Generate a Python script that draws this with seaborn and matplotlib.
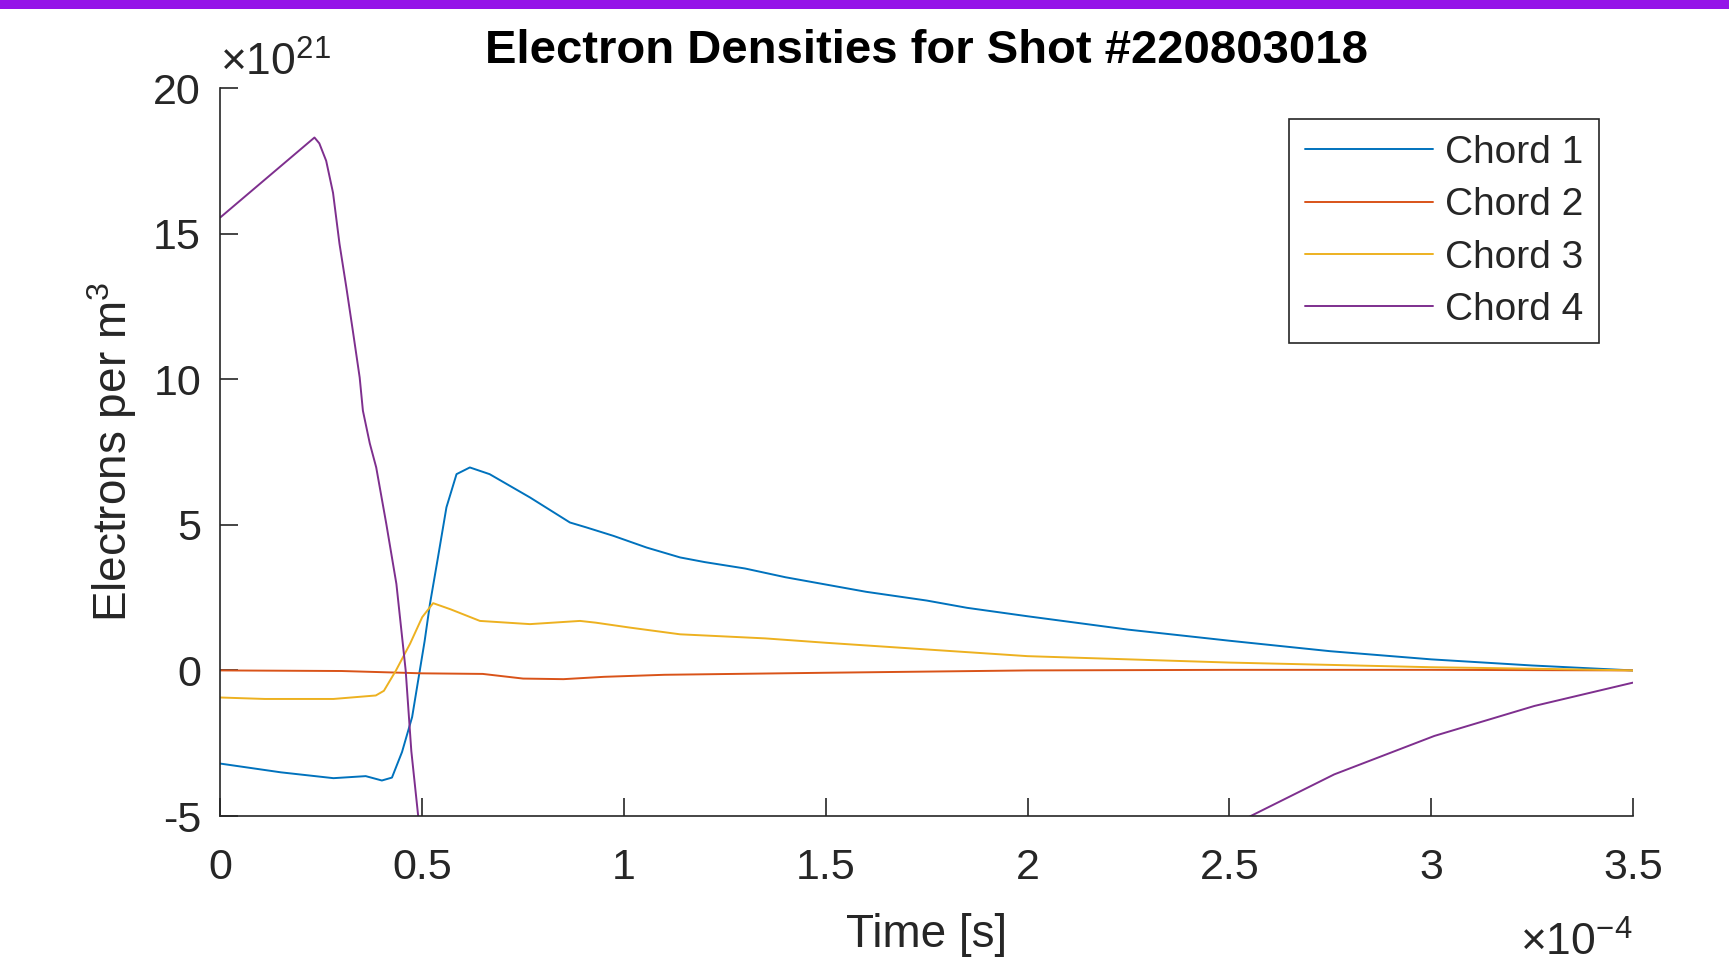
import matplotlib
matplotlib.use('Agg')
import matplotlib.pyplot as plt
import matplotlib.ticker as mticker
from matplotlib.patches import Rectangle
import numpy as np
import pandas as pd
import seaborn as sns

# time in units of 1e-4 s, density in units of 1e21 m^-3
t_chord1 = [0, 0.15, 0.28, 0.36, 0.40, 0.425, 0.45, 0.475, 0.494, 0.506, 0.519, 0.539,
            0.56, 0.585, 0.618, 0.667, 0.767, 0.866, 0.907, 0.974, 1.056, 1.139, 1.2,
            1.3, 1.4, 1.5, 1.6, 1.75, 1.85, 2.0, 2.25, 2.5, 2.75, 3.0, 3.25, 3.5]
n_chord1 = [-3.2, -3.5, -3.7, -3.63, -3.78, -3.68, -2.8, -1.6, 0.0, 1.01, 2.27, 3.88,
            5.6, 6.74, 6.97, 6.74, 5.94, 5.08, 4.91, 4.62, 4.22, 3.88, 3.72,
            3.5, 3.2, 2.95, 2.7, 2.4, 2.15, 1.86, 1.4, 1.02, 0.66, 0.38, 0.17, 0.0]

t_chord2 = [0, 0.3, 0.5, 0.65, 0.75, 0.85, 0.95, 1.1, 1.5, 2.0, 2.5, 3.0, 3.5]
n_chord2 = [0.0, -0.02, -0.1, -0.12, -0.28, -0.3, -0.22, -0.15, -0.08, 0.0, 0.02, 0.02, 0.0]

t_chord3 = [0, 0.11, 0.28, 0.385, 0.405, 0.435, 0.47, 0.50, 0.527, 0.57, 0.643, 0.767,
            0.891, 0.93, 1.015, 1.139, 1.2, 1.35, 1.5, 1.75, 2.0, 2.25, 2.5, 2.75,
            3.0, 3.25, 3.5]
n_chord3 = [-0.93, -0.98, -0.98, -0.86, -0.7, 0.0, 0.92, 1.83, 2.31, 2.1, 1.70, 1.59,
            1.70, 1.64, 1.47, 1.24, 1.2, 1.1, 0.95, 0.72, 0.49, 0.38, 0.27, 0.19,
            0.11, 0.06, 0.0]

t_chord4 = [0, 0.233, 0.245, 0.262, 0.279, 0.295, 0.312, 0.328, 0.345, 0.353, 0.37,
            0.386, 0.411, 0.436, 0.459, 0.473, 0.49, 0.55, 0.8, 1.2, 1.6, 2.0, 2.3,
            2.553, 2.76, 3.008, 3.256, 3.5]
n_chord4 = [15.56, 18.3, 18.1, 17.5, 16.4, 14.65, 13.15, 11.67, 10.06, 8.92, 7.8,
            6.97, 5.03, 2.97, 0.0, -2.77, -5.0, -10, -14, -14, -12, -9.5, -7,
            -5.0, -3.57, -2.25, -1.22, -0.42]

chord_names = ['Chord 1', 'Chord 2', 'Chord 3', 'Chord 4']
matlab_colors = ['#0072BD', '#D95319', '#EDB120', '#7E2F8E']

frames = []
for name, t, n in zip(chord_names,
                      [t_chord1, t_chord2, t_chord3, t_chord4],
                      [n_chord1, n_chord2, n_chord3, n_chord4]):
    frames.append(pd.DataFrame({'Time': np.array(t) * 1e-4,
                                'Density': np.array(n) * 1e21,
                                'Chord': name}))
df = pd.concat(frames, ignore_index=True)


class MatlabFormatter(mticker.ScalarFormatter):
    # fixed exponent, labels like 0, 0.5, 1 instead of 0.0, 0.5, 1.0
    def __init__(self, exponent):
        super().__init__(useOffset=False, useMathText=True)
        self.set_powerlimits((exponent, exponent))

    def _set_format(self):
        self.format = '%g'


sns.set_style('ticks')
plt.rcParams['font.family'] = ['Liberation Sans', 'DejaVu Sans']
plt.rcParams['mathtext.fontset'] = 'custom'
plt.rcParams['mathtext.rm'] = 'Liberation Sans'
plt.rcParams['mathtext.it'] = 'Liberation Sans'
plt.rcParams['axes.unicode_minus'] = False

text_color = '#262626'

fig = plt.figure(figsize=(17.29, 9.64), dpi=100)
fig.patches.append(Rectangle((0, 1 - 9 / 964), 1, 9 / 964, transform=fig.transFigure,
                             facecolor='#9514E8', edgecolor='none'))
ax = fig.add_axes([0.1275, 0.1535, 0.8169, 0.7552])

sns.lineplot(data=df, x='Time', y='Density', hue='Chord', palette=matlab_colors,
             estimator=None, sort=False, linewidth=1.4, ax=ax)

ax.set_xlim(0, 3.5e-4)
ax.set_ylim(-5e21, 20e21)
ax.set_xticks(np.arange(0, 3.51e-4, 0.5e-4))
ax.set_yticks(np.arange(-5e21, 20.1e21, 5e21))
ax.xaxis.set_major_formatter(MatlabFormatter(-4))
ax.yaxis.set_major_formatter(MatlabFormatter(21))

sns.despine(ax=ax)
for side in ('left', 'bottom'):
    ax.spines[side].set_color(text_color)
    ax.spines[side].set_linewidth(1.2)
ax.tick_params(direction='in', length=13, width=1.2, colors=text_color, labelsize=31)
ax.tick_params(axis='x', pad=23)
ax.tick_params(axis='y', pad=14)
for off in (ax.xaxis.get_offset_text(), ax.yaxis.get_offset_text()):
    off.set_fontsize(32)
    off.set_color(text_color)
ax.xaxis.OFFSETTEXTPAD = 24
ax.yaxis.OFFSETTEXTPAD = 9

ax.set_title('Electron Densities for Shot #220803018', fontsize=34, fontweight='bold',
             pad=18, color='black')
ax.set_xlabel('Time [s]', fontsize=33, color=text_color, labelpad=18)
ax.set_ylabel('Electrons per m$^3$', fontsize=33, color=text_color, labelpad=10)

leg = ax.legend(title=None, loc='upper right', bbox_to_anchor=(0.976, 0.957),
                borderaxespad=0, fontsize=28, handlelength=3.3, labelspacing=0.42,
                fancybox=False, framealpha=1, edgecolor=text_color, handletextpad=0.3)
leg.get_frame().set_linewidth(1.2)
for txt in leg.get_texts():
    txt.set_color(text_color)

fig.savefig('out.png', dpi=100)
